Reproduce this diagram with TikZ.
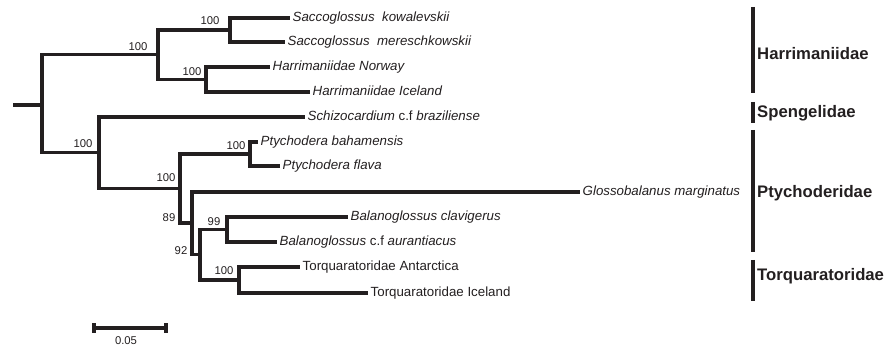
\documentclass[tikz,border=0pt]{standalone}
\usepackage{fontspec}
\setmainfont{Liberation Sans}
\usetikzlibrary{positioning}
\definecolor{treeink}{RGB}{35,31,32}
\tikzset{
  branch/.style  = {line width=3.5pt, color=treeink},
  taxon/.style   = {anchor=west, inner sep=2.5pt, text height=0.72em, text depth=0pt,
                    font=\fontsize{13.3}{15}\selectfont\itshape, color=treeink},
  taxonup/.style = {taxon, font=\fontsize{13.3}{15}\selectfont},
  supp/.style    = {inner sep=0pt, font=\fontsize{11.3}{13}\selectfont, color=treeink},
  famBar/.style  = {line width=3.5pt, color=treeink},
  family/.style  = {anchor=west, inner sep=0pt, font=\fontsize{16.7}{19}\selectfont\bfseries,
                    color=treeink},
}

\begin{document}
\begin{tikzpicture}[x=1pt, y=-1pt]
\useasboundingbox (0,0) rectangle (890,352);

% internal nodes
\coordinate (stub)  at (13,105);
\coordinate (root)  at (42,105);
\coordinate (harr)  at (158,54.75);
\coordinate (sacco) at (230,30);
\coordinate (harrN) at (206,79.5);
\coordinate (lowr)  at (99,152.75);
\coordinate (ptyB)  at (180,188.5);
\coordinate (ptyc)  at (250,154);
\coordinate (n89)   at (192,223);
\coordinate (n92)   at (200,254.75);
\coordinate (bala)  at (227,229.5);
\coordinate (torq)  at (239,280);

% leaves
\node[taxon] (sk) at (290,18)  {Saccoglossus\ \ kowalevskii};
\node[taxon] (sm) at (285,42)  {Saccoglossus\ \ mereschkowskii};
\node[taxon] (hn) at (270,67)  {Harrimaniidae Norway};
\node[taxon] (hi) at (310,92)  {Harrimaniidae Iceland};
\node[taxon] (sb) at (305,117) {Schizocardium \textup{c.f} braziliense};
\node[taxon] (pb) at (258,142) {Ptychodera bahamensis};
\node[taxon] (pf) at (280,166) {Ptychodera flava};
\node[taxon] (gm) at (580,192) {Glossobalanus marginatus};
\node[taxon] (bc) at (348,217) {Balanoglossus clavigerus};
\node[taxon] (ba) at (277,242) {Balanoglossus \textup{c.f} aurantiacus};
\node[taxonup] (ta) at (300,267) {Torquaratoridae Antarctica};
\node[taxonup] (ti) at (368,293) {Torquaratoridae Iceland};

\draw[branch] (stub) -- (root);
\draw[branch] (root) |- (harr);
\draw[branch] (root) |- (lowr);
\draw[branch] (harr) |- (sacco);
\draw[branch] (harr) |- (harrN);
\draw[branch] (sacco) |- (sk.west);
\draw[branch] (sacco) |- (sm.west);
\draw[branch] (harrN) |- (hn.west);
\draw[branch] (harrN) |- (hi.west);
\draw[branch] (lowr) |- (sb.west);
\draw[branch] (lowr) |- (ptyB);
\draw[branch] (ptyB) |- (ptyc);
\draw[branch] (ptyB) |- (n89);
\draw[branch] (ptyc) |- (pb.west);
\draw[branch] (ptyc) |- (pf.west);
\draw[branch] (n89) |- (gm.west);
\draw[branch] (n89) |- (n92);
\draw[branch] (n92) |- (bala);
\draw[branch] (n92) |- (torq);
\draw[branch] (bala) |- (bc.west);
\draw[branch] (bala) |- (ba.west);
\draw[branch] (torq) |- (ta.west);
\draw[branch] (torq) |- (ti.west);

% support values
\node[supp] (sSacco) at (210,21)  {100};
\node[supp] (sHarr)  at (138,47)  {100};
\node[supp] (sHarrN) at (192,72)  {100};
\node[supp] (sLowr)  at (83,144)  {100};
\node[supp] (sPtyc)  at (236,146) {100};
\node[supp] (sPtyB)  at (166,178) {100};
\node[supp] (s89)    at (169,218) {89};
\node[supp] (s92)    at (181,251) {92};
\node[supp] (sBala)  at (214,222) {99};
\node[supp] (sTorq)  at (224,271) {100};

% families
\coordinate (fHt) at (753,7);   \coordinate (fHb) at (753,93);
\coordinate (fSt) at (753,102); \coordinate (fSb) at (753,123);
\coordinate (fPt) at (753,130); \coordinate (fPb) at (753,252);
\coordinate (fTt) at (753,260); \coordinate (fTb) at (753,301);
\draw[famBar] (fHt) -- (fHb);
\draw[famBar] (fSt) -- (fSb);
\draw[famBar] (fPt) -- (fPb);
\draw[famBar] (fTt) -- (fTb);
\node[family] (lH) at (757,54)  {Harrimaniidae};
\node[family] (lS) at (757,113) {Spengelidae};
\node[family] (lP) at (757,193) {Ptychoderidae};
\node[family] (lT) at (757,276) {Torquaratoridae};

% scale bar
\coordinate (sbL) at (94,328);
\coordinate (sbR) at (166,328);
\draw[branch] (sbL) -- (sbR);
\draw[branch] ([yshift=5pt]sbL) -- ([yshift=-5pt]sbL);
\draw[branch] ([yshift=5pt]sbR) -- ([yshift=-5pt]sbR);
\node[supp] (sbLab) at (126,341) {0.05};

\end{tikzpicture}
\end{document}
